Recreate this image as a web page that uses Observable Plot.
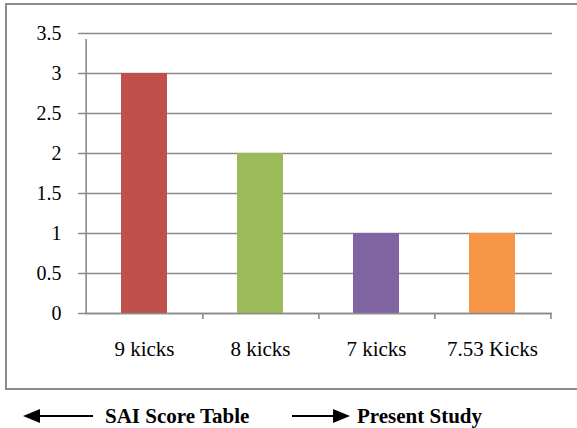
<!DOCTYPE html>
<html>
<head>
<meta charset="utf-8">
<script src="https://cdn.jsdelivr.net/npm/d3@7"></script>
<script src="https://cdn.jsdelivr.net/npm/@observablehq/plot@0.6"></script>
</head>
<body style="margin:0">
<div id="box" style="margin:3px 0 0 5px; width:572px; height:387px; border:2px solid #8c8c8c; border-right:none; box-sizing:border-box"></div>
<div id="legend" style="margin-top:6px"></div>
<script>
// Kicks per category and their scores
const categories = ["9 kicks", "8 kicks", "7 kicks", "7.53 Kicks"];
const scores = [3, 2, 1, 1];
const yTicks = [0, 0.5, 1, 1.5, 2, 2.5, 3, 3.5];
const yTickLabels = ["0", "0.5", "1", "1.5", "2", "2.5", "3", "3.5"];
const legendLabels = ["SAI Score Table", "Present Study"];

const barColors = ["#C0504D", "#9BBB59", "#8064A2", "#F79646"];
const gridColor = "#8a8a8a";
const textFont = "Times New Roman, Liberation Serif, Tinos, serif";

const data = categories.map((c, i) => ({category: c, score: scores[i]}));

const W = 577, H = 390;
const mLeft = 85, mRight = 25, mTop = 33, mBottom = 77;
const step = (W - mLeft - mRight) / categories.length;

const plot = Plot.plot({
  width: W,
  height: H,
  marginLeft: mLeft,
  marginRight: mRight,
  marginTop: mTop,
  marginBottom: mBottom,
  style: {fontFamily: textFont, background: "none", maxWidth: "none", marginLeft: "-7px", marginTop: "-5px"},
  x: {domain: categories, paddingInner: 0.6, paddingOuter: 0.3, label: null},
  y: {domain: [0, 3.5], label: null},
  color: {domain: categories, range: barColors},
  marks: [
    // horizontal gridlines, extended left as tick marks
    Plot.ruleY(yTicks, {stroke: gridColor, strokeWidth: 1.6, insetLeft: -7}),
    Plot.barY(data, {x: "category", y: "score", fill: "category"}),
    // category boundary ticks below the axis; the first one doubles as the y-axis line
    Plot.ruleX([categories[0]], {stroke: gridColor, strokeWidth: 1.6, dx: -step / 2, y1: 0, y2: 3.5, insetBottom: -6}),
    Plot.ruleX(categories, {stroke: gridColor, strokeWidth: 1.6, dx: step / 2, y1: 0, y2: 0, insetBottom: -6}),
    Plot.ruleY([0], {stroke: gridColor, strokeWidth: 1.6}),
    Plot.axisY({ticks: yTicks, tickFormat: (d) => yTickLabels[yTicks.indexOf(d)], tickSize: 0, tickPadding: 24, fontSize: 20, fill: "#000"}),
    Plot.axisX({tickSize: 0, tickPadding: 28, fontSize: 21, fill: "#000"})
  ]
});
plot.setAttribute("font-family", textFont);
plot.querySelectorAll("g, text").forEach((t) => t.setAttribute("font-family", textFont));
document.getElementById("box").appendChild(plot);

// Arrow legend below the chart
const ns = "http://www.w3.org/2000/svg";
const leg = document.createElementNS(ns, "svg");
leg.setAttribute("width", 577);
leg.setAttribute("height", 32);
leg.setAttribute("style", "display:block");
leg.innerHTML = `
  <line x1="36" y1="20" x2="93" y2="20" stroke="#000" stroke-width="2"/>
  <path d="M23,20 L40,13 L40,27 Z" fill="#000"/>
  <text x="105" y="26.5" font-size="21" font-weight="bold" font-family="${textFont}">${legendLabels[0]}</text>
  <line x1="292" y1="20" x2="338" y2="20" stroke="#000" stroke-width="2"/>
  <path d="M350,20 L333,13 L333,27 Z" fill="#000"/>
  <text x="357" y="26.5" font-size="21" font-weight="bold" font-family="${textFont}">${legendLabels[1]}</text>
`;
document.getElementById("legend").appendChild(leg);
</script>
</body>
</html>
